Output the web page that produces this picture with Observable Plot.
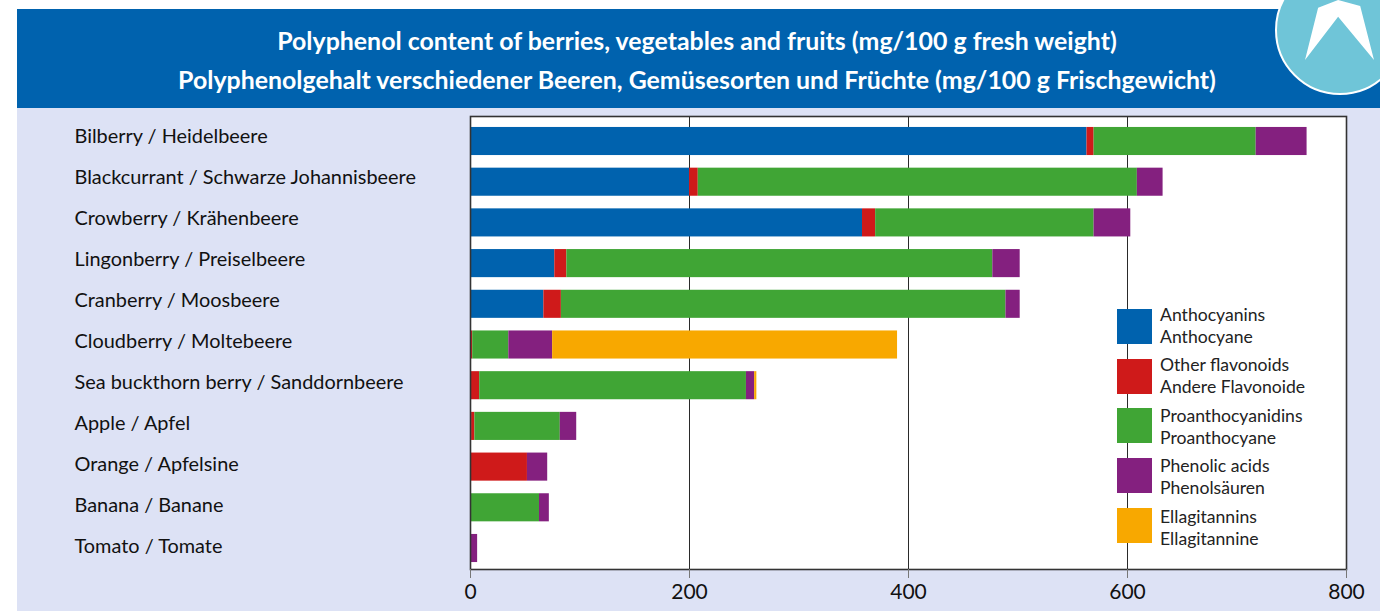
<!DOCTYPE html>
<html><head><meta charset="utf-8">
<script src="https://cdn.jsdelivr.net/npm/d3@7"></script>
<script src="https://cdn.jsdelivr.net/npm/@observablehq/plot@0.6"></script>
<style>
html,body{margin:0;padding:0;width:1380px;height:611px;overflow:hidden;background:#fff;font-family:Lato,sans-serif;}
#page{position:absolute;left:17px;top:108px;width:1363px;height:503px;background:#DDE2F5;}
#head{position:absolute;left:17px;top:9px;width:1363px;height:99px;background:#0062AE;}
.t{position:absolute;left:17px;width:1360px;text-align:center;color:#fff;font-weight:700;font-size:24.9px;line-height:26px;white-space:nowrap;}
#logo{position:absolute;left:1275px;top:-35px;width:126px;height:126px;border-radius:50%;background:#6FC5D8;border:2px solid #fff;}
#arrow{position:absolute;left:1305px;top:0;width:69px;height:60px;background:#fff;clip-path:polygon(0 100%,19% 13%,48% 0,80% 10%,100% 100%,48% 28%);}
#chart{position:absolute;left:0;top:108px;}
.sw{position:absolute;left:1117px;width:35px;height:35px;}
.lg{position:absolute;left:1160px;font-size:17.6px;line-height:22px;color:#222;white-space:pre;}
</style></head><body>
<div id="head"></div><div id="page"></div>
<div class="t" id="t1" style="top:27px"></div><div class="t" id="t2" style="top:66px"></div>
<div id="logo"></div><div id="arrow"></div>
<div id="chart"></div>
<script>
const titleLines = ["Polyphenol content of berries, vegetables and fruits (mg/100 g fresh weight)",
 "Polyphenolgehalt verschiedener Beeren, Gemüsesorten und Früchte (mg/100 g Frischgewicht)"];
const categories = ["Bilberry / Heidelbeere","Blackcurrant / Schwarze Johannisbeere","Crowberry / Krähenbeere","Lingonberry / Preiselbeere","Cranberry / Moosbeere","Cloudberry / Moltebeere","Sea buckthorn berry / Sanddornbeere","Apple / Apfel","Orange / Apfelsine","Banana / Banane","Tomato / Tomate"];
const seriesNames = ["Anthocyanins","Other flavonoids","Proanthocyanidins","Phenolic acids","Ellagitannins"];
const seriesGerman = ["Anthocyane","Andere Flavonoide","Proanthocyane","Phenolsäuren","Ellagitannine"];
const seriesColors = ["#0062AE","#CF1A1A","#40A535","#84207F","#F8A800"];
const anthocyanins = [563,200,358,77,67,0,0,1,0,0,0];
const otherFlavonoids = [6.5,8,12,11,16,2,8.4,3,52,0,0];
const proanthocyanidins = [148,401,199.5,389,406,33,243.6,78,0,63,0];
const phenolicAcids = [46.5,23.5,33.5,25,13,40,7.5,15,18.5,9,6.5];
const ellagitannins = [0,0,0,0,0,315,2,0,0,0,0];
const xTicks = [0,200,400,600,800];

const allSeries = [anthocyanins,otherFlavonoids,proanthocyanidins,phenolicAcids,ellagitannins];
const rows = [];
allSeries.forEach((vals,s)=>vals.forEach((v,i)=>{ if(v>0) rows.push({cat:categories[i],series:seriesNames[s],value:v}); }));

document.getElementById("t1").textContent = titleLines[0];
document.getElementById("t2").textContent = titleLines[1];

const plot = Plot.plot({
  width:1380, height:503,
  marginLeft:470, marginRight:34, marginTop:8, marginBottom:42,
  style:{background:"transparent",fontFamily:"Lato,sans-serif",overflow:"visible"},
  x:{domain:[0,800],ticks:xTicks,label:null},
  y:{domain:categories,range:[12.65,460.35],paddingInner:0.31,paddingOuter:0.155,round:false,label:null,axis:null},
  color:{domain:seriesNames,range:seriesColors},
  marks:[
    Plot.frame({fill:"white",stroke:"none"}),
    Plot.gridX(xTicks,{stroke:"#2a2a2a",strokeOpacity:1,strokeWidth:1}),
    Plot.barX(rows,{x:"value",y:"cat",fill:"series"}),
    Plot.frame({stroke:"#333",strokeWidth:1.6}),
    Plot.axisX(xTicks,{anchor:"bottom",tickSize:9,tickPadding:6,stroke:"#777",fontSize:21,fill:"#111",label:null}),
    // category labels sit a little above the bar centres, drifting with the row
    ...categories.map((c,i)=>Plot.text([c],{y:d=>d,text:d=>d,frameAnchor:"left",textAnchor:"start",dx:-396,dy:-5+i*0.3,fontSize:19.9,fill:"#111"}))
  ]
});
document.getElementById("chart").appendChild(plot);

const swatchTops = [309,359,408,458,508];
const legendTextTops = [304,354,405,455,506];
seriesNames.forEach((n,i)=>{
  const s=document.createElement("div");s.className="sw";s.style.top=swatchTops[i]+"px";s.style.background=seriesColors[i];document.body.appendChild(s);
  const l=document.createElement("div");l.className="lg";l.style.top=legendTextTops[i]+"px";l.textContent=n+"\n"+seriesGerman[i];document.body.appendChild(l);
});
</script></body></html>
